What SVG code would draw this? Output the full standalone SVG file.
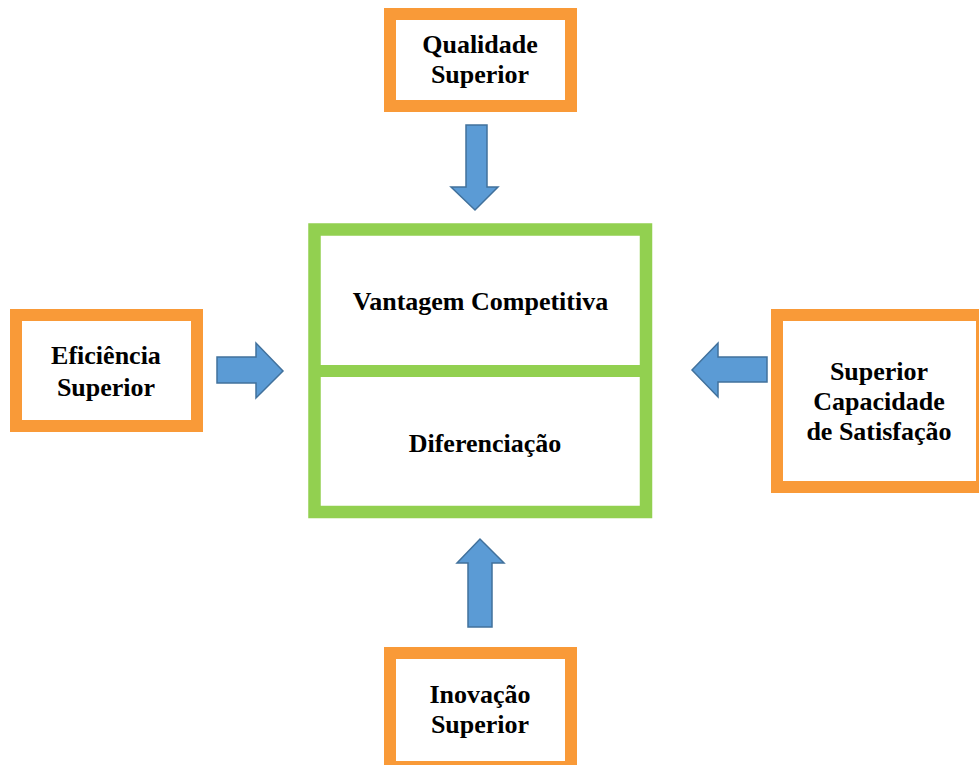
<svg xmlns="http://www.w3.org/2000/svg" width="979" height="765" viewBox="0 0 979 765">
  <style>
    .src { fill: #ffffff; stroke: #F99A38; stroke-width: 12; }
    .core { fill: #ffffff; stroke: #92D050; stroke-width: 12.5; }
    .arrow { fill: #5B9BD5; stroke: #41719C; stroke-width: 1.5; stroke-linejoin: miter; }
    text { font-family: "Liberation Serif", "Times New Roman", serif; font-weight: bold; font-size: 26px; fill: #000000; text-anchor: middle; }
  </style>
  <rect width="979" height="765" fill="#ffffff"/>

  <!-- central block -->
  <g id="core">
    <rect class="core" x="314.5" y="229.5" width="331.5" height="282.5"/>
    <line x1="314.5" y1="371" x2="646" y2="371" stroke="#92D050" stroke-width="12"/>
    <text x="480.5" y="310">Vantagem Competitiva</text>
    <text x="485" y="452">Diferenciação</text>
  </g>

  <g id="qualidade">
    <rect class="src" x="390" y="14" width="181" height="92"/>
    <text x="480" y="53">Qualidade</text>
    <text x="480" y="83">Superior</text>
  </g>

  <g id="eficiencia">
    <rect class="src" x="16" y="315" width="181" height="111"/>
    <text x="106" y="364">Eficiência</text>
    <text x="106" y="396">Superior</text>
  </g>

  <g id="satisfacao">
    <rect class="src" x="777" y="315" width="205" height="172"/>
    <text x="879" y="380">Superior</text>
    <text x="879" y="410">Capacidade</text>
    <text x="879" y="440">de Satisfação</text>
  </g>

  <g id="inovacao">
    <rect class="src" x="390" y="653" width="181" height="114"/>
    <text x="480" y="703">Inovação</text>
    <text x="480" y="733">Superior</text>
  </g>

  <!-- block arrows pointing into the central block -->
  <g id="connectors">
    <polygon class="arrow" points="466,125 487,125 487,187 498,187 475,210 451,187 466,187"/>
    <polygon class="arrow" points="217,357 256,357 256,343 283,371 256,398 256,383 217,383"/>
    <polygon class="arrow" points="767,357 718,357 718,343 692,370 718,397 718,382 767,382"/>
    <polygon class="arrow" points="468,627 492,627 492,563 504,563 480,539 457,563 468,563"/>
  </g>
</svg>
